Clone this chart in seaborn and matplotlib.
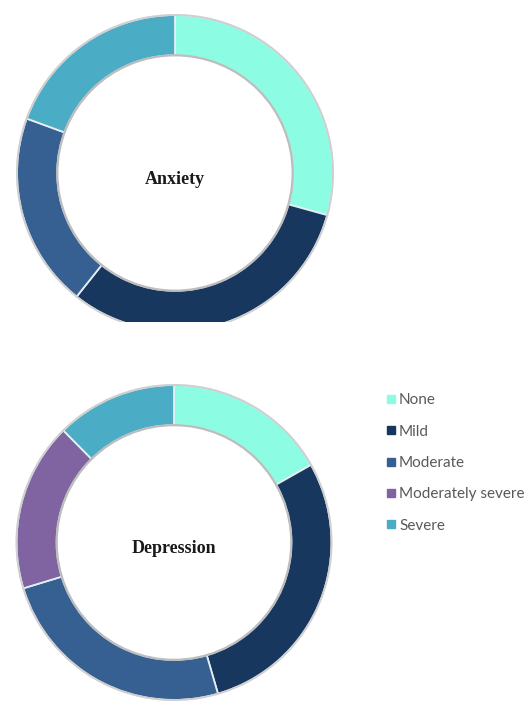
import matplotlib
matplotlib.use("Agg")
import matplotlib.pyplot as plt
import seaborn as sns
from matplotlib.lines import Line2D
from matplotlib.patches import Circle

sns.set_theme(style="white")
plt.rcParams['font.family'] = ['Lato', 'DejaVu Sans']

# ---- data ----
categories = ["None", "Mild", "Moderate", "Moderately severe", "Severe"]
anxiety_cats = ["None", "Mild", "Moderate", "Severe"]
anxiety_vals = [29.3, 31.4, 19.9, 19.4]
depression_cats = ["None", "Mild", "Moderate", "Moderately severe", "Severe"]
depression_vals = [16.8, 28.7, 24.8, 17.3, 12.4]
colors = sns.color_palette(["#8CFDE2", "#17375E", "#366092", "#8064A2", "#4BACC6"])
color_map = dict(zip(categories, colors))

W, H = 527, 702
fig = plt.figure(figsize=(W / 100, H / 100), dpi=100)
fig.patch.set_facecolor("white")

INNER = 0.745


def donut(px_box, center, radius, cats, vals, label):
    x0, y0, x1, y1 = px_box  # pixel box (top-left origin)
    ax = fig.add_axes([x0 / W, 1 - y1 / H, (x1 - x0) / W, (y1 - y0) / H])
    wedges, _ = ax.pie(vals, colors=[color_map[c] for c in cats], startangle=90,
                       counterclock=False, radius=1.0,
                       wedgeprops=dict(width=1 - INNER, edgecolor="#E6EEF4", linewidth=1.3))
    for w in wedges:
        w.set_clip_on(True)
    c1 = ax.add_patch(Circle((0, 0), 1.0, fill=False, edgecolor="#CFCFCF", lw=1.4, zorder=5))
    c2 = ax.add_patch(Circle((0, 0), INNER, fill=False, edgecolor="#BDBDBD", lw=1.6, zorder=5))
    c1.set_clip_on(True)
    c2.set_clip_on(True)
    cx, cy = center
    ax.set_aspect("auto")
    ax.set_xlim((x0 - cx) / radius, (x1 - cx) / radius)
    ax.set_ylim(-(y1 - cy) / radius, (cy - y0) / radius)
    ax.axis("off")
    ax.text(0, -0.04, label, ha="center", va="center", fontsize=13,
            fontweight="bold", family=["Liberation Serif", "DejaVu Serif"], color="#1A1A1A")
    return ax


donut((0, 0, 350, 322), (175, 173), 158, anxiety_cats, anxiety_vals, "Anxiety")
donut((0, 370, 350, 702), (174, 542.5), 157.5, depression_cats, depression_vals, "Depression")

handles = [Line2D([0], [0], marker="s", linestyle="none", markersize=6,
                  markerfacecolor=color_map[c], markeredgecolor=color_map[c]) for c in categories]
fig.legend(handles, categories, loc="upper left", bbox_to_anchor=(380 / W, 1 - 387 / H),
           frameon=False, fontsize=11, labelcolor="#595959", handlelength=0.6,
           handletextpad=0.25, labelspacing=1.14, borderaxespad=0)

fig.savefig("out.png", dpi=100, facecolor="white")
